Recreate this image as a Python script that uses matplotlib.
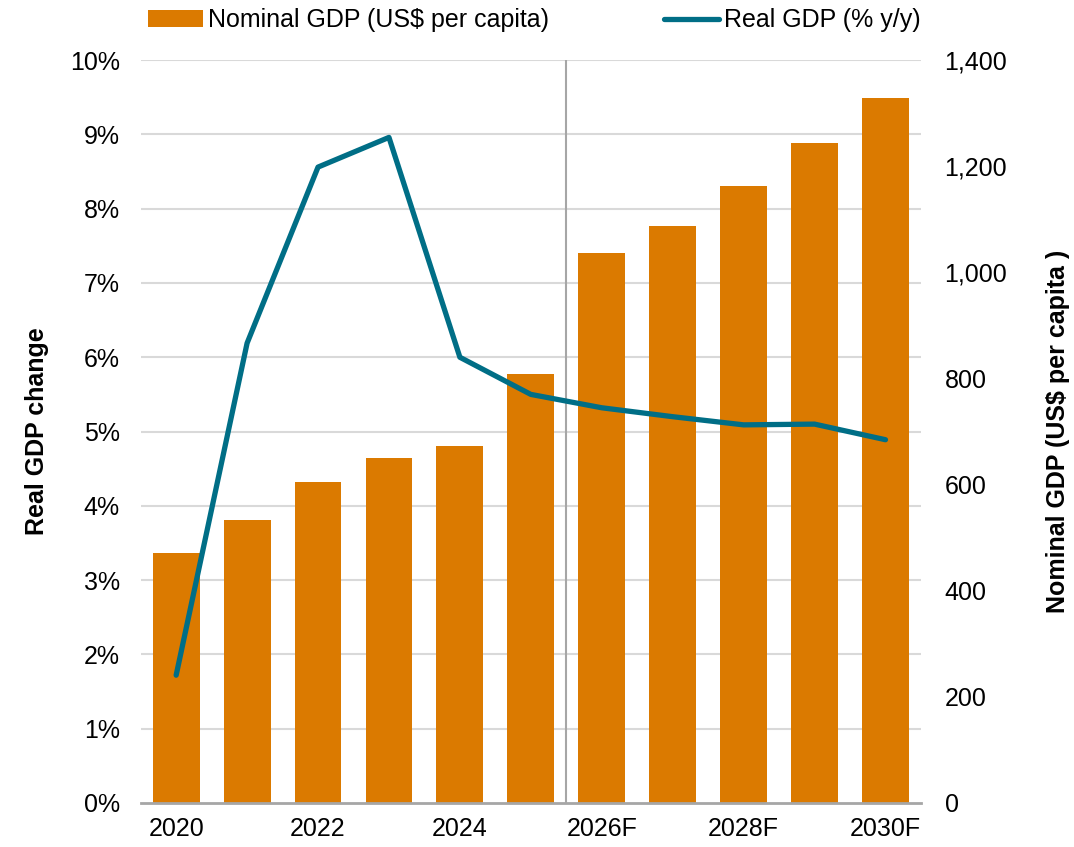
import matplotlib
matplotlib.use("Agg")
import matplotlib.pyplot as plt
from matplotlib.ticker import FuncFormatter

plt.rcParams['font.family'] = ['Liberation Sans', 'DejaVu Sans']

# data
years = ["2020", "2021", "2022", "2023", "2024", "2025",
         "2026F", "2027F", "2028F", "2029F", "2030F"]
nominal_gdp = [471, 533, 605, 650, 673, 808, 1036, 1087, 1163, 1244, 1328]
real_gdp = [1.72, 6.19, 8.56, 8.96, 6.0, 5.5, 5.32, 5.2, 5.09, 5.1, 4.89]

orange = "#DB7A00"
teal = "#006E86"
fs = 18

fig = plt.figure(figsize=(10.74, 8.47), dpi=100)
ax = fig.add_axes([0.131, 0.052, 0.7265, 0.877])
ax2 = ax.twinx()

x = list(range(len(years)))

# bars on the right axis, line on the left axis
bars = ax2.bar(x, nominal_gdp, width=0.66, color=orange, zorder=2,
               label="Nominal GDP (US$ per capita)")
line, = ax.plot(x, real_gdp, color=teal, lw=3.8, zorder=5,
                solid_capstyle="round", label="Real GDP (% y/y)")
ax.set_zorder(ax2.get_zorder() + 1)
ax.patch.set_visible(False)

ax.set_ylim(0, 10)
ax.set_yticks(range(0, 11))
ax.yaxis.set_major_formatter(FuncFormatter(lambda v, p: f"{v:.0f}%"))
ax2.set_ylim(0, 1400)
ax2.set_yticks(range(0, 1401, 200))
ax2.yaxis.set_major_formatter(FuncFormatter(lambda v, p: f"{v:,.0f}"))

ax.set_xlim(-0.5, len(years) - 0.5)
ax.set_xticks(x[::2])
ax.set_xticklabels(years[::2])

# gridlines follow the left (percent) scale, drawn behind the bars
for g in range(1, 11):
    ax2.axhline(g * 140, color="#D9D9D9", lw=1.5, zorder=0)
ax2.axvline(5.5, color="#A6A6A6", lw=1.5, zorder=1)

for a in (ax, ax2):
    for s in a.spines.values():
        s.set_visible(False)
    a.tick_params(length=0, labelsize=fs, colors="black")
ax.spines["bottom"].set_visible(True)
ax.spines["bottom"].set_color("#A6A6A6")
ax.spines["bottom"].set_linewidth(2)
ax.tick_params(axis="x", pad=10)
ax.tick_params(axis="y", pad=15)
ax2.tick_params(axis="y", pad=17)

ax.set_ylabel("Real GDP change", fontsize=fs, fontweight="bold", labelpad=15)
ax2.set_ylabel("Nominal GDP (US$ per capita )", fontsize=fs,
               fontweight="bold", rotation=90, labelpad=28)

fig.legend(handles=[bars, line], loc="upper left", ncol=2,
           bbox_to_anchor=(0.138, 0.99), frameon=False, fontsize=fs,
           columnspacing=4.6, handlelength=2.2, handletextpad=0.2,
           borderpad=0, borderaxespad=0)

fig.savefig("out.png", dpi=100)
